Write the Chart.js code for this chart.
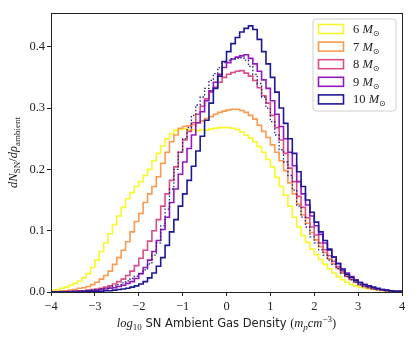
<!DOCTYPE html>
<html>
<head>
<meta charset="utf-8">
<script src="https://cdn.jsdelivr.net/npm/chart.js@4.4.1/dist/chart.umd.min.js"></script>
<style>
  body { margin: 0; background: #fff; }
  canvas { display: block; }
</style>
</head>
<body>
<canvas id="histChart" width="415" height="339"></canvas>
<script>
// histogram bins: 0.1 dex wide from -4 to 4
const binStart = -4;
const binWidth = 0.1;
const xTicks = [-4, -3, -2, -1, 0, 1, 2, 3, 4];
const yTicks = [0.0, 0.1, 0.2, 0.3, 0.4];
const massLabels = ['6', '7', '8', '9', '10'];

const hist6 = [
  0.002, 0.003, 0.004, 0.006, 0.008, 0.011, 0.014, 0.018, 0.023, 0.030,
  0.040, 0.052, 0.066, 0.080, 0.095, 0.110, 0.124, 0.138, 0.152, 0.162,
  0.172, 0.180, 0.190, 0.200, 0.214, 0.226, 0.238, 0.250, 0.258, 0.264,
  0.265, 0.266, 0.264, 0.265, 0.263, 0.265, 0.264, 0.266, 0.267, 0.268,
  0.268, 0.268, 0.267, 0.265, 0.261, 0.256, 0.251, 0.245, 0.237, 0.228,
  0.216, 0.204, 0.187, 0.172, 0.158, 0.140, 0.122, 0.106, 0.092, 0.081,
  0.070, 0.061, 0.053, 0.045, 0.038, 0.031, 0.025, 0.020, 0.016, 0.012,
  0.010, 0.008, 0.006, 0.005, 0.004, 0.003, 0.002, 0.002, 0.001, 0.001
];
const hist7 = [
  0.000, 0.001, 0.001, 0.002, 0.002, 0.003, 0.004, 0.006, 0.007, 0.009,
  0.012, 0.016, 0.021, 0.027, 0.034, 0.045, 0.056, 0.068, 0.082, 0.098,
  0.115, 0.128, 0.146, 0.160, 0.172, 0.188, 0.210, 0.228, 0.245, 0.256,
  0.267, 0.270, 0.271, 0.273, 0.276, 0.279, 0.283, 0.286, 0.290, 0.293,
  0.295, 0.297, 0.298, 0.298, 0.296, 0.293, 0.288, 0.282, 0.272, 0.262,
  0.252, 0.240, 0.228, 0.214, 0.198, 0.178, 0.160, 0.143, 0.126, 0.112,
  0.097, 0.085, 0.074, 0.064, 0.054, 0.046, 0.038, 0.031, 0.025, 0.020,
  0.016, 0.012, 0.009, 0.007, 0.005, 0.004, 0.003, 0.002, 0.001, 0.001
];
const hist8 = [
  0.000, 0.000, 0.000, 0.000, 0.001, 0.001, 0.001, 0.002, 0.002, 0.003,
  0.004, 0.005, 0.006, 0.008, 0.010, 0.013, 0.017, 0.021, 0.027, 0.034,
  0.043, 0.055, 0.068, 0.083, 0.100, 0.118, 0.140, 0.160, 0.182, 0.204,
  0.228, 0.248, 0.262, 0.276, 0.290, 0.303, 0.315, 0.326, 0.334, 0.342,
  0.350, 0.355, 0.358, 0.360, 0.361, 0.357, 0.352, 0.345, 0.333, 0.320,
  0.308, 0.288, 0.268, 0.248, 0.226, 0.202, 0.180, 0.156, 0.138, 0.121,
  0.106, 0.093, 0.080, 0.069, 0.059, 0.050, 0.041, 0.033, 0.026, 0.021,
  0.016, 0.012, 0.009, 0.007, 0.005, 0.004, 0.003, 0.002, 0.001, 0.001
];
const hist9 = [
  0.000, 0.000, 0.000, 0.000, 0.000, 0.000, 0.001, 0.001, 0.001, 0.002,
  0.002, 0.003, 0.004, 0.005, 0.006, 0.007, 0.009, 0.011, 0.014, 0.017,
  0.022, 0.030, 0.040, 0.052, 0.066, 0.084, 0.102, 0.122, 0.146, 0.168,
  0.192, 0.212, 0.234, 0.256, 0.276, 0.294, 0.312, 0.328, 0.342, 0.355,
  0.366, 0.374, 0.380, 0.383, 0.385, 0.387, 0.381, 0.372, 0.360, 0.346,
  0.332, 0.312, 0.290, 0.270, 0.250, 0.228, 0.206, 0.180, 0.160, 0.142,
  0.124, 0.108, 0.094, 0.080, 0.068, 0.057, 0.047, 0.038, 0.031, 0.025,
  0.020, 0.016, 0.012, 0.010, 0.007, 0.005, 0.004, 0.003, 0.002, 0.001
];
const hist10 = [
  0.000, 0.000, 0.000, 0.000, 0.000, 0.000, 0.000, 0.000, 0.000, 0.001,
  0.001, 0.001, 0.001, 0.002, 0.002, 0.003, 0.004, 0.005, 0.006, 0.008,
  0.010, 0.013, 0.017, 0.023, 0.031, 0.042, 0.056, 0.076, 0.098, 0.118,
  0.140, 0.160, 0.182, 0.205, 0.230, 0.254, 0.280, 0.308, 0.332, 0.352,
  0.376, 0.392, 0.405, 0.415, 0.424, 0.430, 0.434, 0.428, 0.412, 0.392,
  0.372, 0.350, 0.326, 0.300, 0.275, 0.250, 0.226, 0.196, 0.172, 0.150,
  0.130, 0.114, 0.098, 0.084, 0.070, 0.057, 0.046, 0.036, 0.029, 0.024,
  0.019, 0.015, 0.012, 0.010, 0.008, 0.006, 0.004, 0.003, 0.002, 0.001
];
// dotted comparison curve (no legend entry)
const histDotted = [
  0.000, 0.000, 0.000, 0.000, 0.000, 0.001, 0.001, 0.001, 0.002, 0.002,
  0.003, 0.004, 0.005, 0.006, 0.008, 0.010, 0.012, 0.015, 0.018, 0.022,
  0.026, 0.030, 0.036, 0.046, 0.060, 0.080, 0.108, 0.135, 0.168, 0.200,
  0.228, 0.250, 0.268, 0.288, 0.305, 0.318, 0.332, 0.345, 0.356, 0.366,
  0.374, 0.378, 0.380, 0.381, 0.382, 0.378, 0.368, 0.355, 0.340, 0.318,
  0.300, 0.278, 0.256, 0.232, 0.212, 0.190, 0.166, 0.140, 0.122, 0.106,
  0.090, 0.080, 0.069, 0.060, 0.052, 0.045, 0.038, 0.031, 0.025, 0.020,
  0.016, 0.012, 0.009, 0.007, 0.005, 0.004, 0.003, 0.002, 0.001, 0.001
];

const colors = ['#f7f72c', '#fb9a4e', '#db4d86', '#9619bf', '#1e1896'];
const serif = '"Liberation Serif", "DejaVu Serif", serif';

// turn bin heights into step points (with drops to zero at both ends, like histtype='step')
function toSteps(values) {
  const pts = [{ x: binStart, y: 0 }];
  values.forEach((v, i) => pts.push({ x: binStart + i * binWidth, y: v }));
  const end = binStart + values.length * binWidth;
  pts.push({ x: end, y: values[values.length - 1] });
  pts.push({ x: end, y: 0 });
  return pts;
}

const series = [hist6, hist7, hist8, hist9, hist10];
const datasets = series.map((h, i) => ({
  label: massLabels[i],
  data: toSteps(h),
  borderColor: colors[i],
  borderWidth: 1.6,
  stepped: 'after',
  pointRadius: 0,
  fill: false,
  order: series.length - i
}));
datasets.push({
  label: 'dotted',
  data: toSteps(histDotted),
  borderColor: '#24247e',
  borderWidth: 1.3,
  borderDash: [1.5, 2],
  stepped: 'after',
  pointRadius: 0,
  fill: false,
  order: 0
});

// draw a run of text pieces with different fonts / offsets
function drawRuns(ctx, runs, x, y, align) {
  let total = 0;
  runs.forEach(r => { ctx.font = r.font; total += ctx.measureText(r.text).width; });
  let cx = align === 'center' ? x - total / 2 : x;
  ctx.textBaseline = 'alphabetic';
  ctx.textAlign = 'left';
  runs.forEach(r => {
    ctx.font = r.font;
    ctx.fillText(r.text, cx, y + (r.dy || 0));
    cx += ctx.measureText(r.text).width;
  });
}

const decorations = {
  id: 'decorations',
  afterDraw(chart) {
    const ctx = chart.ctx;
    const a = chart.chartArea;
    ctx.save();
    // frame
    ctx.strokeStyle = '#222';
    ctx.lineWidth = 1;
    ctx.strokeRect(Math.round(a.left) + 0.5, Math.round(a.top) + 0.5,
      Math.round(a.right - a.left), Math.round(a.bottom - a.top));

    ctx.fillStyle = '#222';
    // x title
    const mi = 'italic 12.5px ' + serif;
    const ms = 'italic 9px ' + serif;
    const rm9 = '9px ' + serif;
    drawRuns(ctx, [
      { text: 'log', font: mi },
      { text: '10', font: rm9, dy: 3 },
      { text: ' SN Ambient Gas Density ', font: '11.5px "DejaVu Sans", sans-serif' },
      { text: '(', font: '12.5px ' + serif },
      { text: 'm', font: mi },
      { text: 'p', font: ms, dy: 3 },
      { text: 'cm', font: mi },
      { text: '\u22123', font: rm9, dy: -5 },
      { text: ')', font: '12.5px ' + serif }
    ], (a.left + a.right) / 2, 327, 'center');

    // y title
    ctx.save();
    ctx.translate(17, (a.top + a.bottom) / 2);
    ctx.rotate(-Math.PI / 2);
    drawRuns(ctx, [
      { text: 'dN', font: mi },
      { text: 'SN', font: rm9, dy: 3 },
      { text: '/', font: '12.5px ' + serif },
      { text: 'd\u03C1', font: mi },
      { text: 'ambient', font: rm9, dy: 3 }
    ], 0, 0, 'center');
    ctx.restore();

    // legend box in the upper right
    const lx = 313, ly = 19, lw = 83, lh = 92, r = 3;
    ctx.fillStyle = 'rgba(255,255,255,0.8)';
    ctx.strokeStyle = '#d0d0d0';
    ctx.beginPath();
    ctx.moveTo(lx + r, ly);
    ctx.arcTo(lx + lw, ly, lx + lw, ly + lh, r);
    ctx.arcTo(lx + lw, ly + lh, lx, ly + lh, r);
    ctx.arcTo(lx, ly + lh, lx, ly, r);
    ctx.arcTo(lx, ly, lx + lw, ly, r);
    ctx.closePath();
    ctx.fill();
    ctx.stroke();
    massLabels.forEach((m, i) => {
      const cy = 29 + i * 17.6;
      ctx.strokeStyle = colors[i];
      ctx.lineWidth = 1.6;
      ctx.strokeRect(318.5, cy - 4.5, 25, 9);
      ctx.fillStyle = '#222';
      drawRuns(ctx, [
        { text: m + ' ', font: '12.5px ' + serif },
        { text: 'M', font: mi },
        { text: '\u2299', font: '8px "DejaVu Sans", sans-serif', dy: 3 }
      ], 353, cy + 4, 'left');
    });
    ctx.restore();
  }
};

new Chart(document.getElementById('histChart'), {
  type: 'line',
  data: { datasets: datasets },
  options: {
    responsive: false,
    devicePixelRatio: 1,
    animation: false,
    layout: { padding: { top: 13, right: 13, left: 0, bottom: 0 } },
    plugins: { legend: { display: false }, tooltip: { enabled: false } },
    scales: {
      x: {
        type: 'linear',
        min: -4,
        max: 4,
        afterFit(scale) { scale.height = 47; },
        afterBuildTicks(scale) { scale.ticks = xTicks.map(v => ({ value: v })); },
        border: { display: false },
        grid: { display: true, drawOnChartArea: false, drawTicks: true, tickLength: 4, color: '#222' },
        ticks: {
          color: '#222',
          padding: 3,
          font: { family: serif, size: 12.5 },
          callback: v => (v < 0 ? '\u2212' + Math.abs(v) : String(v))
        }
      },
      y: {
        min: 0,
        max: 0.455,
        afterFit(scale) { scale.width = 51; },
        afterBuildTicks(scale) { scale.ticks = yTicks.map(v => ({ value: v })); },
        border: { display: false },
        grid: { display: true, drawOnChartArea: false, drawTicks: true, tickLength: 4, color: '#222' },
        ticks: {
          color: '#222',
          padding: 2,
          font: { family: serif, size: 12.5 },
          callback: v => v.toFixed(1)
        }
      }
    }
  },
  plugins: [decorations]
});
</script>
</body>
</html>
